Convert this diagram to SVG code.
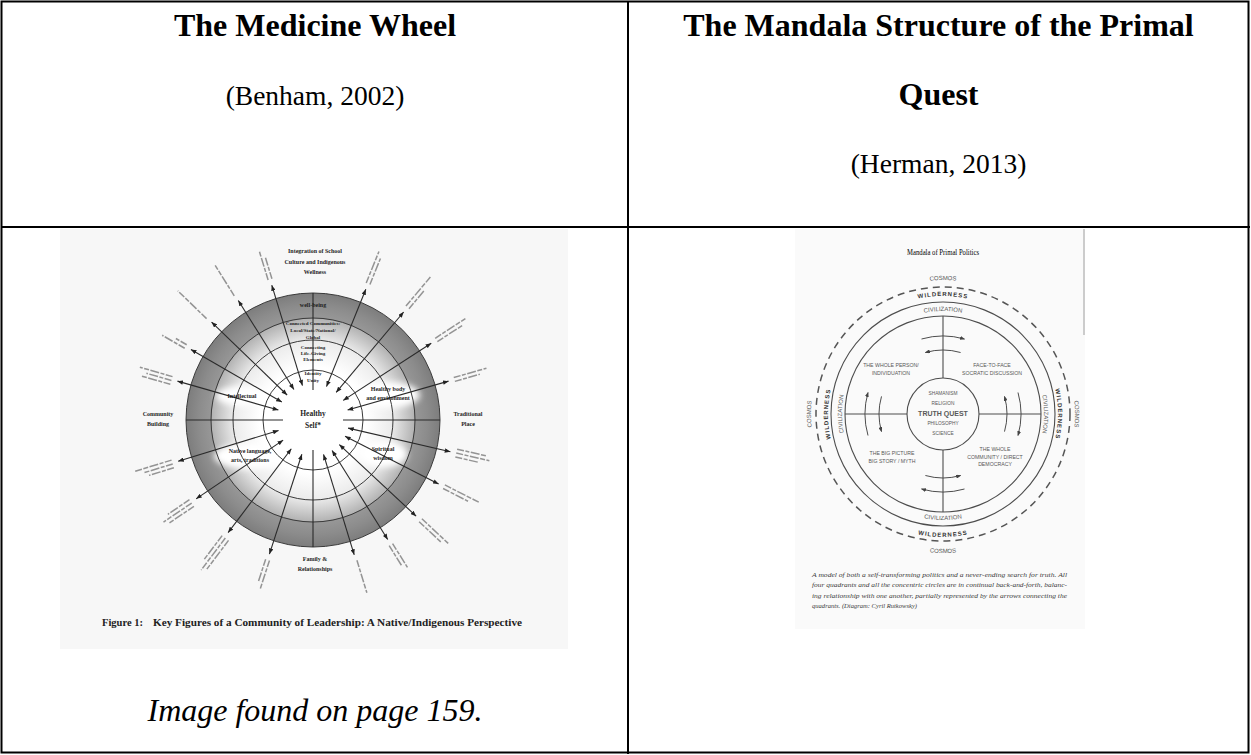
<svg xmlns="http://www.w3.org/2000/svg" width="1251" height="755" viewBox="0 0 1251 755">
<style>
.hd{font-family:"Liberation Serif","Times New Roman",serif;fill:#000;text-anchor:middle}
.ttl{font-size:32px;font-weight:bold}
.cit{font-size:27.5px}
.itl{font-size:32px;font-style:italic}
.tbl{fill:none;stroke:#000;stroke-width:2}
.mw{font-family:"Liberation Serif","Times New Roman",serif;font-weight:bold;fill:#1e1e1e;text-anchor:middle}
.mwc{font-family:"Liberation Serif","Times New Roman",serif;font-weight:bold;fill:#222;font-size:10px}
.s6{font-size:6px}
.s5{font-size:5px}
.ring{fill:none;stroke:#3a3a3a;stroke-width:1}
.spk{stroke:#2a2a2a;stroke-width:1.1;marker-start:url(#ah);marker-end:url(#ah)}
.ax{stroke:#2a2a2a;stroke-width:1.1}
.smg{stroke:#7a7a7a;stroke-width:1.5;fill:none;stroke-dasharray:7 1.5 4 1.5 9 1.5 5 1.5;opacity:.8}
.md{font-family:"Liberation Sans",Arial,sans-serif;fill:#585858;text-anchor:middle}
.mdb{font-weight:bold;fill:#333;letter-spacing:1px}
.mdl{fill:none;stroke:#4d4d4d;stroke-width:1.1}
.mda{fill:none;stroke:#4d4d4d;stroke-width:1;marker-end:url(#mh)}
.cap{font-family:"Liberation Serif","Times New Roman",serif;font-style:italic;font-size:7px;fill:#3a3a3a}
</style>
<defs>
<radialGradient id="wg" cx="313" cy="420" r="127" gradientUnits="userSpaceOnUse">
<stop offset="0" stop-color="#fff"/>
<stop offset="0.42" stop-color="#fff"/>
<stop offset="0.62" stop-color="#ececec"/>
<stop offset="0.795" stop-color="#b4b4b4"/>
<stop offset="0.805" stop-color="#979797"/>
<stop offset="0.9" stop-color="#8c8c8c"/>
<stop offset="1" stop-color="#7d7d7d"/>
</radialGradient>
<filter id="soft" x="-50%" y="-50%" width="200%" height="200%"><feGaussianBlur stdDeviation="3"/></filter>
<marker id="ah" viewBox="0 0 10 8" refX="10" refY="4" markerWidth="6" markerHeight="4.5" orient="auto-start-reverse" markerUnits="userSpaceOnUse"><path d="M0,0L10,4L0,8z" fill="#222"/></marker>
<marker id="mh" viewBox="0 0 10 8" refX="9" refY="4" markerWidth="5" markerHeight="4" orient="auto" markerUnits="userSpaceOnUse"><path d="M0,0L10,4L0,8z" fill="#444"/></marker>
<path id="tCiv" d="M840 414A103 103 0 0 1 1046 414"/>
<path id="tWil" d="M825 414A118 118 0 0 1 1061 414"/>
<path id="tCos" d="M809 414A134 134 0 0 1 1077 414"/>
<path id="bCiv" d="M837 414A106 106 0 0 0 1049 414"/>
<path id="bWil" d="M820 414A123 123 0 0 0 1066 414"/>
<path id="bCos" d="M804 414A139 139 0 0 0 1082 414"/>
<path id="lCiv" d="M943 515A101 101 0 0 1 943 313"/>
<path id="lWil" d="M943 529A115 115 0 0 1 943 299"/>
<path id="lCos" d="M943 546A132 132 0 0 1 943 282"/>
<path id="rCiv" d="M943 313A101 101 0 0 1 943 515"/>
<path id="rWil" d="M943 299A115 115 0 0 1 943 529"/>
<path id="rCos" d="M943 282A132 132 0 0 1 943 546"/>
</defs>

<rect width="1251" height="755" fill="#fff"/>

<g id="table">
<rect class="tbl" x="1.5" y="1.5" width="1247" height="751" stroke-width="2.5"/>
<line class="tbl" x1="628" y1="1" x2="628" y2="754"/>
<line class="tbl" x1="1" y1="227" x2="1250" y2="227"/>
</g>

<g id="header-left">
<text class="hd ttl" x="315" y="36">The Medicine Wheel</text>
<text class="hd cit" x="315" y="105">(Benham, 2002)</text>
</g>
<g id="header-right">
<text class="hd ttl" x="938.5" y="36">The Mandala Structure of the Primal</text>
<text class="hd ttl" x="938.5" y="105">Quest</text>
<text class="hd cit" x="938.5" y="173">(Herman, 2013)</text>
</g>
<g id="note-left">
<text class="hd itl" x="315" y="721">Image found on page 159.</text>
</g>

<g id="medicine-wheel">
<rect x="60" y="229" width="508" height="420" fill="#f7f7f7"/>
<circle cx="313" cy="420" r="127" fill="url(#wg)"/>
<g filter="url(#soft)" fill="#fff">
<ellipse cx="242" cy="396" rx="26" ry="10"/>
<ellipse cx="388" cy="395" rx="32" ry="13"/>
<ellipse cx="250" cy="456" rx="36" ry="13"/>
<ellipse cx="383" cy="454" rx="24" ry="13"/>
<circle cx="313" cy="420" r="38"/>
</g>
<circle class="ring" cx="313" cy="420" r="127" stroke-width="1.3"/>
<circle class="ring" cx="313" cy="420" r="102"/>
<circle class="ring" cx="313" cy="420" r="80" stroke="#666" stroke-width="0.8"/>
<circle class="ring" cx="313" cy="420" r="50" stroke="#777" stroke-width="0.7"/>

<g id="wheel-connectors">
<line class="ax" x1="313" y1="293" x2="313" y2="390"/>
<line class="ax" x1="313" y1="450" x2="313" y2="547"/>
<line class="ax" x1="186" y1="420" x2="283" y2="420"/>
<line class="ax" x1="343" y1="420" x2="440" y2="420"/>
<g transform="rotate(-16 313 420)"><line class="spk" x1="454" y1="420" x2="349" y2="420"/><path class="smg" d="M460 418h34M460 422h26"/></g>
<g transform="rotate(-33 313 420)"><line class="spk" x1="454" y1="420" x2="349" y2="420"/><path class="smg" d="M460 418h36M460 422h30"/></g>
<g transform="rotate(-50 313 420)"><line class="spk" x1="454" y1="420" x2="349" y2="420"/><path class="smg" d="M460 418h38M460 422h24"/></g>
<g transform="rotate(-68 313 420)"><line class="spk" x1="454" y1="420" x2="349" y2="420"/><path class="smg" d="M460 418h34M460 422h28"/></g>
<g transform="rotate(-107 313 420)"><line class="spk" x1="454" y1="420" x2="349" y2="420"/><path class="smg" d="M460 418h30M460 422h22"/></g>
<g transform="rotate(-122 313 420)"><line class="spk" x1="454" y1="420" x2="349" y2="420"/><path class="smg" d="M460 419h36"/></g>
<g transform="rotate(-136 313 420)"><line class="spk" x1="454" y1="420" x2="349" y2="420"/><path class="smg" d="M460 419h40"/></g>
<g transform="rotate(-150 313 420)"><line class="spk" x1="454" y1="420" x2="349" y2="420"/><path class="smg" d="M460 418h26M460 422h14"/></g>
<g transform="rotate(-164 313 420)"><line class="spk" x1="454" y1="420" x2="349" y2="420"/><path class="smg" d="M460 415h30M460 419h26M460 423h34"/></g>
<g transform="rotate(-197 313 420)"><line class="spk" x1="454" y1="420" x2="349" y2="420"/><path class="smg" d="M460 415h26M460 419h30M460 423h38"/></g>
<g transform="rotate(-214 313 420)"><line class="spk" x1="454" y1="420" x2="349" y2="420"/><path class="smg" d="M460 415h30M460 419h34M460 423h26"/></g>
<g transform="rotate(-233 313 420)"><line class="spk" x1="454" y1="420" x2="349" y2="420"/><path class="smg" d="M460 415h36M460 419h40M460 423h30"/></g>
<g transform="rotate(-252 313 420)"><line class="spk" x1="454" y1="420" x2="349" y2="420"/><path class="smg" d="M460 418h30M460 422h24"/></g>
<g transform="rotate(-287 313 420)"><line class="spk" x1="454" y1="420" x2="349" y2="420"/><path class="smg" d="M460 419h34"/></g>
<g transform="rotate(-302 313 420)"><line class="spk" x1="454" y1="420" x2="349" y2="420"/><path class="smg" d="M460 418h28M460 422h24"/></g>
<g transform="rotate(-317 313 420)"><line class="spk" x1="454" y1="420" x2="349" y2="420"/><path class="smg" d="M460 418h36M460 422h30"/></g>
<g transform="rotate(-333 313 420)"><line class="spk" x1="454" y1="420" x2="349" y2="420"/><path class="smg" d="M460 418h38M460 422h28"/></g>
<g transform="rotate(-347 313 420)"><line class="spk" x1="454" y1="420" x2="349" y2="420"/><path class="smg" d="M460 416h30M460 420h34M460 424h24"/></g>
</g>

<g id="wheel-top-label">
<text class="mw s6" x="315" y="253">Integration of School</text>
<text class="mw s6" x="315" y="264">Culture and Indigenous</text>
<text class="mw s6" x="315" y="274">Wellness</text>
</g>
<g id="wheel-rings-text">
<text class="mw s6" x="313" y="307">well-being</text>
<text class="mw s5" x="313" y="325">Connected Communities:</text>
<text class="mw s5" x="313" y="332">Local/State/National/</text>
<text class="mw s5" x="313" y="339">Global</text>
<text class="mw s5" x="313" y="349">Connecting</text>
<text class="mw s5" x="313" y="355">Life-Giving</text>
<text class="mw s5" x="313" y="361">Elements</text>
<text class="mw s5" x="313" y="375">Identity</text>
<text class="mw s5" x="313" y="382">Unity</text>
</g>
<g id="wheel-center"><text class="mw" font-size="7.5" x="313" y="416">Healthy</text><text class="mw" font-size="7.5" x="313" y="428">Self*</text></g>
<g id="wheel-intellectual"><text class="mw s6" x="242" y="398">Intellectual</text></g>
<g id="wheel-body"><text class="mw s6" x="388" y="391">Healthy body</text><text class="mw s6" x="388" y="400">and environment</text></g>
<g id="wheel-language"><text class="mw s6" x="250" y="453">Native language,</text><text class="mw s6" x="250" y="462">arts, traditions</text></g>
<g id="wheel-spiritual"><text class="mw s6" x="383" y="451">Spiritual</text><text class="mw s6" x="383" y="460">wisdom</text></g>
<g id="wheel-community"><text class="mw s6" x="158" y="416">Community</text><text class="mw s6" x="158" y="426">Building</text></g>
<g id="wheel-place"><text class="mw s6" x="468" y="416">Traditional</text><text class="mw s6" x="468" y="426">Place</text></g>
<g id="wheel-family"><text class="mw s6" x="315" y="561">Family &amp;</text><text class="mw s6" x="315" y="571">Relationships</text></g>
<g id="wheel-caption">
<text class="mwc" x="102" y="626" textLength="41" lengthAdjust="spacingAndGlyphs">Figure 1:</text>
<text class="mwc" x="153" y="626" textLength="369" lengthAdjust="spacingAndGlyphs">Key Figures of a Community of Leadership: A Native/Indigenous Perspective</text>
</g>
</g>

<g id="mandala">
<rect x="795" y="229" width="290" height="400" fill="#fafafa"/>
<line x1="1084" y1="229" x2="1084" y2="335" stroke="#bdbdbd" stroke-width="1.5"/>
<text class="hd" font-size="8" fill="#555" x="943" y="255" textLength="72" lengthAdjust="spacingAndGlyphs">Mandala of Primal Politics</text>
<circle cx="943" cy="414" r="127" fill="none" stroke="#555" stroke-width="1.5" stroke-dasharray="7 5"/>
<circle class="mdl" cx="943" cy="414" r="112"/>
<circle class="mdl" cx="943" cy="414" r="98"/>
<circle class="mdl" cx="943" cy="414" r="36"/>
<g id="mandala-connectors">
<path class="mdl" d="M943 316V378M943 450V512M845 414H907M979 414H1041"/>
<path class="mda" d="M921.5 339A78 78 0 0 1 964.5 339"/>
<path class="mda" d="M960.6 352.5A64 64 0 0 0 925.4 352.5"/>
<path class="mda" d="M1018 392.5A78 78 0 0 1 1018 435.5"/>
<path class="mda" d="M1004.5 431.6A64 64 0 0 0 1004.5 396.4"/>
<path class="mda" d="M964.5 489A78 78 0 0 1 921.5 489"/>
<path class="mda" d="M925.4 475.5A64 64 0 0 0 960.6 475.5"/>
<path class="mda" d="M868 435.5A78 78 0 0 1 868 392.5"/>
<path class="mda" d="M881.5 396.4A64 64 0 0 0 881.5 431.6"/>
</g>
<g id="mandala-rings-text">
<text class="md" font-size="6"><textPath href="#tCiv" startOffset="50%">CIVILIZATION</textPath></text>
<text class="md mdb" font-size="6"><textPath href="#tWil" startOffset="50%">WILDERNESS</textPath></text>
<text class="md" font-size="6"><textPath href="#tCos" startOffset="50%">COSMOS</textPath></text>
<text class="md" font-size="6"><textPath href="#bCiv" startOffset="50%">CIVILIZATION</textPath></text>
<text class="md mdb" font-size="6"><textPath href="#bWil" startOffset="50%">WILDERNESS</textPath></text>
<text class="md" font-size="6"><textPath href="#bCos" startOffset="50%">COSMOS</textPath></text>
<text class="md" font-size="6"><textPath href="#lCiv" startOffset="50%">CIVILIZATION</textPath></text>
<text class="md mdb" font-size="6"><textPath href="#lWil" startOffset="50%">WILDERNESS</textPath></text>
<text class="md" font-size="6"><textPath href="#lCos" startOffset="50%">COSMOS</textPath></text>
<text class="md" font-size="6"><textPath href="#rCiv" startOffset="50%">CIVILIZATION</textPath></text>
<text class="md mdb" font-size="6"><textPath href="#rWil" startOffset="50%">WILDERNESS</textPath></text>
<text class="md" font-size="6"><textPath href="#rCos" startOffset="50%">COSMOS</textPath></text>
</g>
<g id="mandala-center">
<text class="md" font-size="4.8" x="943" y="395">SHAMANISM</text>
<text class="md" font-size="4.8" x="943" y="405">RELIGION</text>
<text class="md" font-size="7" font-weight="bold" fill="#444" x="943" y="415.5">TRUTH QUEST</text>
<text class="md" font-size="4.8" x="943" y="425">PHILOSOPHY</text>
<text class="md" font-size="4.8" x="943" y="435">SCIENCE</text>
</g>
<g id="mandala-q1"><text class="md" font-size="5.2" x="891" y="367">THE WHOLE PERSON/</text><text class="md" font-size="5.2" x="891" y="374.5">INDIVIDUATION</text></g>
<g id="mandala-q2"><text class="md" font-size="5.2" x="992" y="367">FACE-TO-FACE</text><text class="md" font-size="5.2" x="992" y="374.5">SOCRATIC DISCUSSION</text></g>
<g id="mandala-q3"><text class="md" font-size="5.2" x="892" y="455">THE BIG PICTURE</text><text class="md" font-size="5.2" x="892" y="462.5">BIG STORY / MYTH</text></g>
<g id="mandala-q4"><text class="md" font-size="5.2" x="995" y="451">THE WHOLE</text><text class="md" font-size="5.2" x="995" y="458.5">COMMUNITY / DIRECT</text><text class="md" font-size="5.2" x="995" y="466">DEMOCRACY</text></g>
<g id="mandala-caption">
<text class="cap" x="812" y="576.5" textLength="255" lengthAdjust="spacingAndGlyphs">A model of both a self-transforming politics and a never-ending search for truth. All</text>
<text class="cap" x="812" y="587" textLength="255" lengthAdjust="spacingAndGlyphs">four quadrants and all the concentric circles are in continual back-and-forth, balanc-</text>
<text class="cap" x="812" y="597.5" textLength="255" lengthAdjust="spacingAndGlyphs">ing relationship with one another, partially represented by the arrows connecting the</text>
<text class="cap" x="812" y="608" textLength="105" lengthAdjust="spacingAndGlyphs">quadrants. (Diagram: Cyril Rutkowsky)</text>
</g>
</g>
</svg>
